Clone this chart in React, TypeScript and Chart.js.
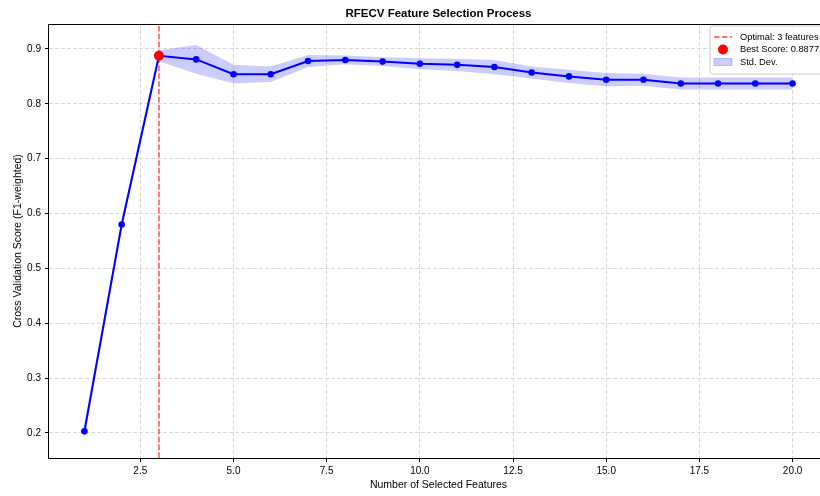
import React, { useEffect, useRef } from 'react';
import { Chart, registerables } from 'chart.js';

Chart.register(...registerables);

const features = [1, 2, 3, 4, 5, 6, 7, 8, 9, 10, 11, 12, 13, 14, 15, 16, 17, 18, 19, 20];
const meanScores = [0.203, 0.580, 0.8877, 0.881, 0.854, 0.854, 0.878, 0.880, 0.877, 0.873, 0.871, 0.867, 0.857, 0.850, 0.844, 0.844, 0.837, 0.837, 0.837, 0.837];
const stdScores = [0.014, 0.010, 0.010, 0.026, 0.017, 0.014, 0.011, 0.008, 0.008, 0.010, 0.011, 0.013, 0.011, 0.012, 0.012, 0.011, 0.011, 0.011, 0.011, 0.011];
const bestFeatures = 3;
const bestScore = 0.8877;
const xTicks = [2.5, 5, 7.5, 10, 12.5, 15, 17.5, 20];
const yTicks = [0.2, 0.3, 0.4, 0.5, 0.6, 0.7, 0.8, 0.9];
const xRange = [0.05, 20.95];
const yRange = [0.1544, 0.9455];

const titleText = 'RFECV Feature Selection Process';
const xLabel = 'Number of Selected Features';
const yLabel = 'Cross Validation Score (F1-weighted)';
const legendLabels = ['Optimal: 3 features', 'Best Score: 0.8877', 'Std. Dev.'];

const FONT = '"Liberation Sans", Arial, Helvetica, sans-serif';

const decorPlugin = {
  id: 'decor',
  afterDatasetsDraw(chart: any) {
    const { ctx, chartArea: a } = chart;
    ctx.save();
    ctx.strokeStyle = '#000';
    ctx.lineWidth = 1;
    const l = Math.round(a.left) - 0.5;
    const t = Math.round(a.top) + 0.5;
    const r = Math.round(a.right) - 0.5;
    const b = Math.round(a.bottom) + 0.5;
    ctx.beginPath();
    ctx.moveTo(l, t);
    ctx.lineTo(r, t);
    ctx.lineTo(r, b);
    ctx.lineTo(l, b);
    ctx.closePath();
    ctx.stroke();
    ctx.restore();
  },
  afterDraw(chart: any) {
    const { ctx, chartArea: a } = chart;
    ctx.save();
    ctx.fillStyle = '#000';
    ctx.font = `bold 11.5px ${FONT}`;
    ctx.textAlign = 'center';
    ctx.textBaseline = 'middle';
    ctx.fillText(titleText, (a.left + a.right) / 2, 14);

    const bx = 710, by = 26, bw = 130, bh = 48, rad = 3;
    ctx.beginPath();
    ctx.moveTo(bx + rad, by);
    ctx.lineTo(bx + bw - rad, by);
    ctx.arcTo(bx + bw, by, bx + bw, by + rad, rad);
    ctx.lineTo(bx + bw, by + bh - rad);
    ctx.arcTo(bx + bw, by + bh, bx + bw - rad, by + bh, rad);
    ctx.lineTo(bx + rad, by + bh);
    ctx.arcTo(bx, by + bh, bx, by + bh - rad, rad);
    ctx.lineTo(bx, by + rad);
    ctx.arcTo(bx, by, bx + rad, by, rad);
    ctx.closePath();
    ctx.fillStyle = 'rgba(255,255,255,0.8)';
    ctx.fill();
    ctx.strokeStyle = '#cccccc';
    ctx.lineWidth = 1;
    ctx.stroke();

    const rows = [37, 49.5, 62];
    ctx.strokeStyle = 'rgba(255,0,0,0.7)';
    ctx.lineWidth = 1.5;
    ctx.setLineDash([5.5, 2.4]);
    ctx.beginPath();
    ctx.moveTo(714, rows[0]);
    ctx.lineTo(732, rows[0]);
    ctx.stroke();
    ctx.setLineDash([]);
    ctx.fillStyle = '#ff0000';
    ctx.beginPath();
    ctx.arc(723, rows[1], 5, 0, Math.PI * 2);
    ctx.fill();
    ctx.fillStyle = 'rgba(0,0,255,0.2)';
    ctx.fillRect(714, rows[2] - 3.5, 18, 7);
    ctx.strokeStyle = 'rgba(0,0,255,0.2)';
    ctx.lineWidth = 1;
    ctx.strokeRect(714, rows[2] - 3.5, 18, 7);

    ctx.fillStyle = '#000';
    ctx.font = `9.3px ${FONT}`;
    ctx.textAlign = 'left';
    ctx.textBaseline = 'middle';
    legendLabels.forEach((txt, i) => ctx.fillText(txt, 740, rows[i]));
    ctx.restore();
  },
};

export default function App() {
  const ref = useRef<HTMLCanvasElement | null>(null);

  useEffect(() => {
    if (!ref.current) return;
    const upper = features.map((f, i) => ({ x: f, y: meanScores[i] + stdScores[i] }));
    const lower = features.map((f, i) => ({ x: f, y: meanScores[i] - stdScores[i] }));
    const mean = features.map((f, i) => ({ x: f, y: meanScores[i] }));

    const tickFont = { family: FONT, size: 10 };
    const labelFont = { family: FONT, size: 10.5 };

    const chart = new Chart(ref.current, {
      type: 'line',
      data: {
        datasets: [
          {
            label: 'Best Score',
            data: [{ x: bestFeatures, y: bestScore }],
            showLine: false,
            pointRadius: 5,
            pointBackgroundColor: '#ff0000',
            pointBorderWidth: 0,
            borderColor: '#ff0000',
            order: 1,
          },
          {
            label: 'Mean',
            data: mean,
            borderColor: '#0000ff',
            borderWidth: 2,
            pointRadius: 3.3,
            pointBackgroundColor: '#0000ff',
            pointBorderWidth: 0,
            tension: 0,
            fill: false,
            order: 2,
          },
          {
            label: 'Optimal',
            data: [{ x: bestFeatures, y: yRange[0] }, { x: bestFeatures, y: yRange[1] }],
            borderColor: 'rgba(255,0,0,0.7)',
            borderWidth: 1.5,
            borderDash: [5.5, 2.4],
            pointRadius: 0,
            fill: false,
            order: 3,
          },
          {
            label: 'Upper',
            data: upper,
            borderWidth: 0,
            borderColor: 'rgba(0,0,0,0)',
            pointRadius: 0,
            fill: '+1',
            backgroundColor: 'rgba(0,0,255,0.2)',
            tension: 0,
            order: 4,
          },
          {
            label: 'Lower',
            data: lower,
            borderWidth: 0,
            borderColor: 'rgba(0,0,0,0)',
            pointRadius: 0,
            fill: false,
            tension: 0,
            order: 5,
          },
        ],
      },
      options: {
        responsive: false,
        animation: false,
        events: [],
        layout: { autoPadding: false, padding: { top: 24, left: 0, right: 0, bottom: 0 } },
        plugins: {
          legend: { display: false },
          tooltip: { enabled: false },
          title: { display: false },
        },
        scales: {
          x: {
            type: 'linear',
            min: xRange[0],
            max: xRange[1],
            afterBuildTicks: (s: any) => {
              s.ticks = xTicks.map((v) => ({ value: v }));
            },
            afterFit: (s: any) => {
              s.height = 38;
            },
            ticks: {
              callback: (v: any) => Number(v).toFixed(1),
              font: tickFont,
              color: '#000',
              padding: 3,
              maxRotation: 0,
              autoSkip: false,
            },
            grid: {
              color: '#d9d9d9',
              lineWidth: 1,
              tickColor: '#000',
              tickLength: 4,
              tickWidth: 1,
              tickBorderDash: [],
            },
            border: { display: false, dash: [4, 2] },
            title: {
              display: true,
              text: xLabel,
              font: labelFont,
              color: '#000',
              padding: { top: 0, bottom: 5 },
            },
          },
          y: {
            type: 'linear',
            min: yRange[0],
            max: yRange[1],
            afterBuildTicks: (s: any) => {
              s.ticks = yTicks.map((v) => ({ value: v }));
            },
            afterFit: (s: any) => {
              s.width = 49;
            },
            ticks: {
              callback: (v: any) => Number(v).toFixed(1),
              font: tickFont,
              color: '#000',
              padding: 4,
              autoSkip: false,
            },
            grid: {
              color: '#d9d9d9',
              lineWidth: 1,
              tickColor: '#000',
              tickLength: 4,
              tickWidth: 1,
              tickBorderDash: [],
            },
            border: { display: false, dash: [4, 2] },
            title: {
              display: true,
              text: yLabel,
              font: labelFont,
              color: '#000',
              padding: { top: 12, bottom: 0 },
            },
          },
        },
      } as any,
      plugins: [decorPlugin],
    });
    return () => chart.destroy();
  }, []);

  return (
    <div style={{ position: 'fixed', left: 0, top: 0, width: 820, height: 496, overflow: 'hidden', background: '#fff' }}>
      <canvas ref={ref} width={828} height={496} style={{ display: 'block', width: 828, height: 496 }} />
    </div>
  );
}
